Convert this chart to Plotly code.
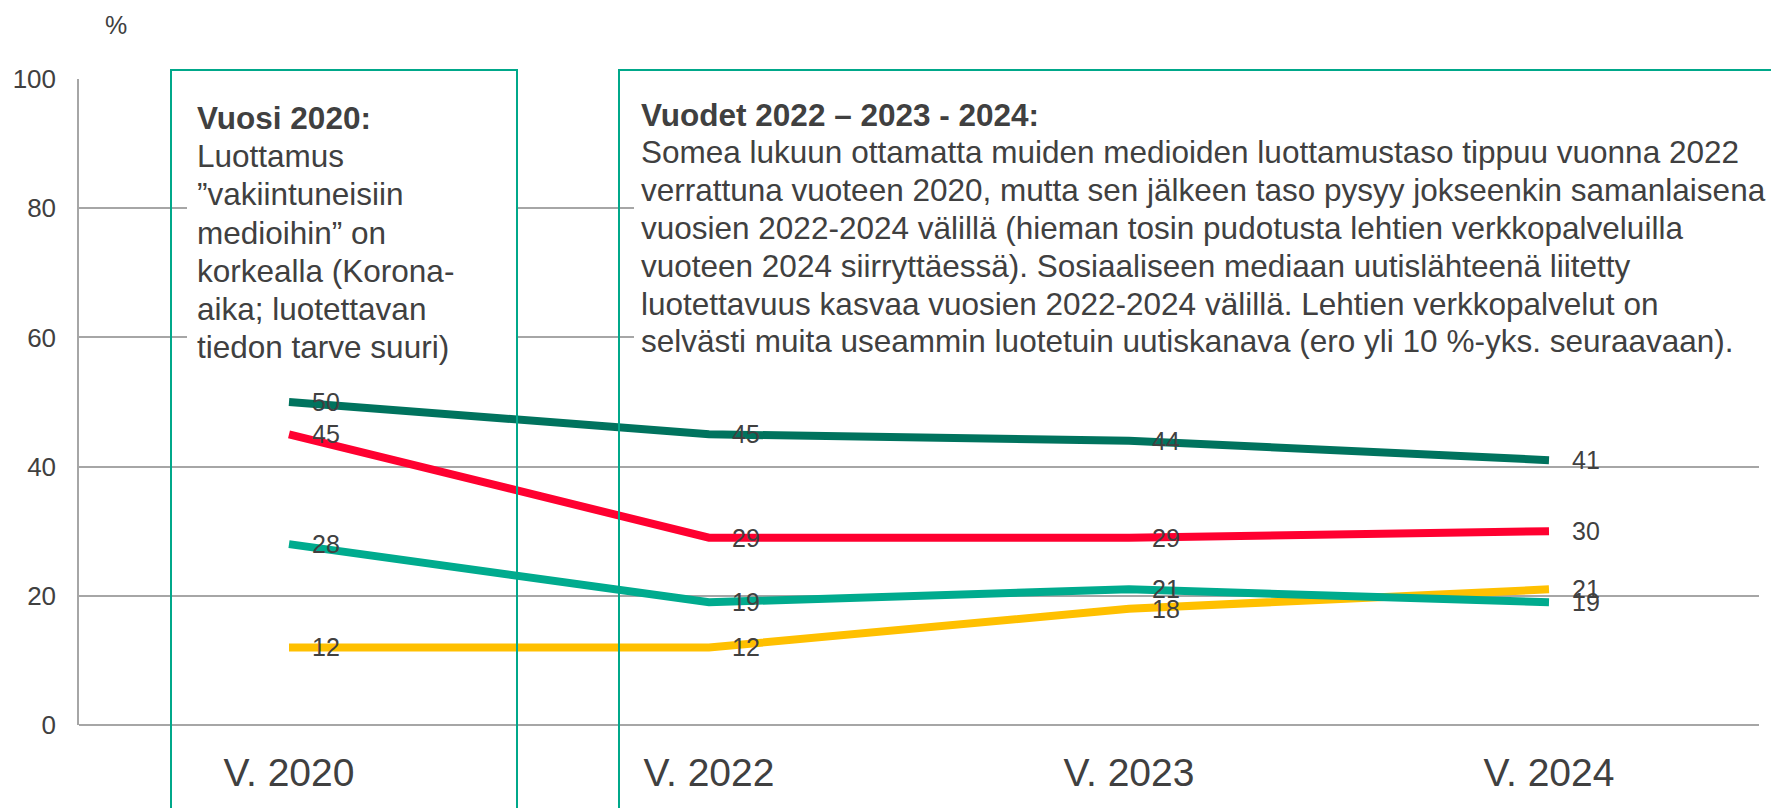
import plotly.graph_objects as go

# ---- data ----
categories = ["V. 2020", "V. 2022", "V. 2023", "V. 2024"]
lehtien_verkkopalvelut = [50, 45, 44, 41]
sarja_punainen = [45, 29, 29, 30]
sosiaalinen_media = [12, 12, 18, 21]
sarja_turkoosi = [28, 19, 21, 19]
y_ticks = [0, 20, 40, 60, 80, 100]

series = [
    ("Lehtien verkkopalvelut", lehtien_verkkopalvelut, "#00735E"),
    ("Sarja 2", sarja_punainen, "#FF0030"),
    ("Sosiaalinen media", sosiaalinen_media, "#FFC000"),
    ("Sarja 3", sarja_turkoosi, "#00AB8E"),
]

lines_left = ["<b>Vuosi 2020:</b>", "Luottamus", "”vakiintuneisiin", "medioihin” on",
              "korkealla (Korona-", "aika; luotettavan", "tiedon tarve suuri)"]
lines_right = ["<b>Vuodet 2022 – 2023 - 2024:</b>",
               "Somea lukuun ottamatta muiden medioiden luottamustaso tippuu vuonna 2022",
               "verrattuna vuoteen 2020, mutta sen jälkeen taso pysyy jokseenkin samanlaisena",
               "vuosien 2022-2024 välillä (hieman tosin pudotusta lehtien verkkopalveluilla",
               "vuoteen 2024 siirryttäessä). Sosiaaliseen mediaan uutislähteenä liitetty",
               "luotettavuus kasvaa vuosien 2022-2024 välillä. Lehtien verkkopalvelut on",
               "selvästi muita useammin luotetuin uutiskanava (ero yli 10 %-yks. seuraavaan)."]

FONT = "Liberation Sans, Arial, sans-serif"
TXT = "#404040"
BOX = "#00A88A"

W, H = 1779, 808
OFF = 8  # page offset of the figure in the screenshot
L, R, T, B = 71, 28, 71, 91
pw, ph = W - L - R, H - T - B

def px(x):  # screenshot x -> paper
    return (x - OFF - L) / pw

def py(y):  # screenshot y -> paper
    return (H - B - (y - OFF)) / ph

fig = go.Figure()
annotations = []
for name, vals, col in series:
    fig.add_trace(go.Scatter(x=categories, y=vals, mode="lines", name=name,
                             line=dict(color=col, width=8), hoverinfo="skip"))
    for c, v in zip(categories, vals):
        annotations.append(dict(x=c, y=v, xref="x", yref="y", text=str(v), showarrow=False,
                                xanchor="left", yanchor="middle", xshift=21,
                                font=dict(family=FONT, size=25, color=TXT)))

shapes = [
    dict(type="rect", xref="paper", yref="paper", x0=px(187), x1=px(516), y0=py(372), y1=py(96),
         fillcolor="white", line=dict(width=0), layer="above"),
    dict(type="rect", xref="paper", yref="paper", x0=px(634), x1=px(1800), y0=py(366), y1=py(92),
         fillcolor="white", line=dict(width=0), layer="above"),
    dict(type="rect", xref="paper", yref="paper", x0=px(171), x1=px(517), y0=py(900), y1=py(70),
         fillcolor="rgba(0,0,0,0)", line=dict(color=BOX, width=2), layer="above"),
    dict(type="rect", xref="paper", yref="paper", x0=px(619), x1=px(1900), y0=py(900), y1=py(70),
         fillcolor="rgba(0,0,0,0)", line=dict(color=BOX, width=2), layer="above"),
]

for i, t in enumerate(lines_left):
    annotations.append(dict(x=px(195), y=py(118 + i * 38.2), xref="paper", yref="paper", text=t,
                            showarrow=False, xanchor="left", yanchor="middle", align="left",
                            font=dict(family=FONT, size=31.5, color=TXT)))
for i, t in enumerate(lines_right):
    annotations.append(dict(x=px(639), y=py(114.6 + i * 37.8), xref="paper", yref="paper", text=t,
                            showarrow=False, xanchor="left", yanchor="middle", align="left",
                            font=dict(family=FONT, size=31.5, color=TXT)))

annotations.append(dict(x=px(116), y=py(25), xref="paper", yref="paper", text="%", showarrow=False,
                        xanchor="center", yanchor="middle", font=dict(family=FONT, size=25, color=TXT)))

fig.update_layout(
    width=W, height=H,
    margin=dict(l=L, r=R, t=T, b=B, autoexpand=False),
    paper_bgcolor="white", plot_bgcolor="white",
    showlegend=False,
    shapes=shapes, annotations=annotations,
    font=dict(family=FONT, color=TXT),
    xaxis=dict(type="category", range=[-0.5, 3.5], showgrid=False, zeroline=False,
               showline=False, ticks="", tickfont=dict(size=39, color=TXT),
               ticklabelstandoff=21, fixedrange=True),
    yaxis=dict(range=[0, 100], tickvals=y_ticks, showgrid=True, gridcolor="#A6A6A6",
               gridwidth=1.5, zeroline=True, zerolinecolor="#A6A6A6", zerolinewidth=1.5,
               showline=True, linecolor="#A6A6A6", linewidth=1.5, ticks="",
               tickfont=dict(size=26, color=TXT), ticklabelstandoff=16, fixedrange=True),
)

fig.write_html("out.html")
